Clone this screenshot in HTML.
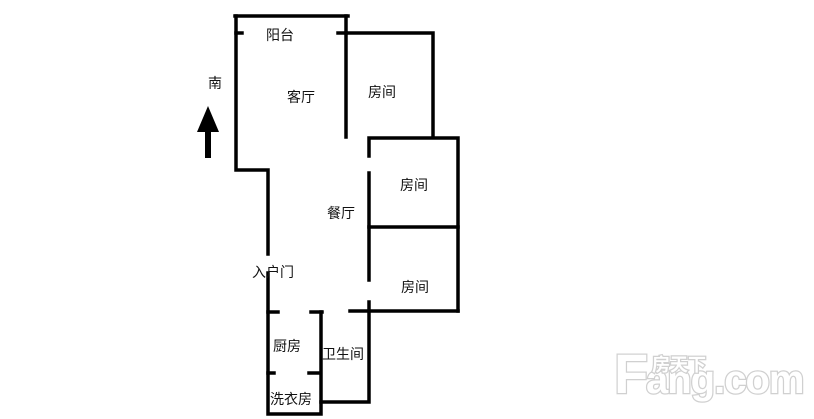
<!DOCTYPE html>
<html><head><meta charset="utf-8"><style>
html,body{margin:0;padding:0;background:#fff;width:814px;height:419px;overflow:hidden}
svg{display:block}
text{font-family:"Liberation Sans","Noto Sans CJK SC",sans-serif;font-size:14px;fill:#111}
</style></head><body>
<svg width="814" height="419" viewBox="0 0 814 419">
<g stroke="#000" stroke-width="3.5" fill="none" stroke-linecap="square">
<path d="M235 16 H348"/>
<path d="M236 16 V170 H268 V254"/>
<path d="M346 16 V137"/>
<path d="M236 33 H242 M338 33 H346"/>
<path d="M346 33 H433 V137"/>
<path d="M369 156 V138 H458 V311"/>
<path d="M369 173 V280"/>
<path d="M369 227 H458"/>
<path d="M369 302 V402 H321"/>
<path d="M350 311 H458"/>
<path d="M268 273 V414 H321 V312"/>
<path d="M268 312 H278 M311 312 H322"/>
<path d="M268 373 H274 M309 373 H320"/>
</g>
<polygon points="208,106 197,132 219,132" fill="#000"/>
<rect x="205" y="128" width="6" height="30" fill="#000"/>
<text x="208" y="88">南</text>
<text x="266" y="40">阳台</text>
<text x="287" y="102">客厅</text>
<text x="368" y="97">房间</text>
<text x="400" y="190">房间</text>
<text x="327" y="218">餐厅</text>
<text x="252" y="277">入户门</text>
<text x="401" y="292">房间</text>
<text x="273" y="351">厨房</text>
<text x="322" y="359">卫生间</text>
<text x="270" y="404">洗衣房</text>
<g font-weight="bold" stroke="#d0d0d0" stroke-width="2.5" paint-order="stroke">
<text x="614" y="393" style="font-size:56px;fill:#fff;font-family:'Liberation Sans',sans-serif">F</text>
<text x="646" y="393" style="font-size:40px;fill:#fff;font-family:'Liberation Sans',sans-serif;letter-spacing:-1px">ang.com</text>
<text x="652" y="371" style="font-size:18px;fill:#fff;font-family:'Noto Sans CJK SC',sans-serif">房天下</text>
</g>
</svg>
</body></html>
